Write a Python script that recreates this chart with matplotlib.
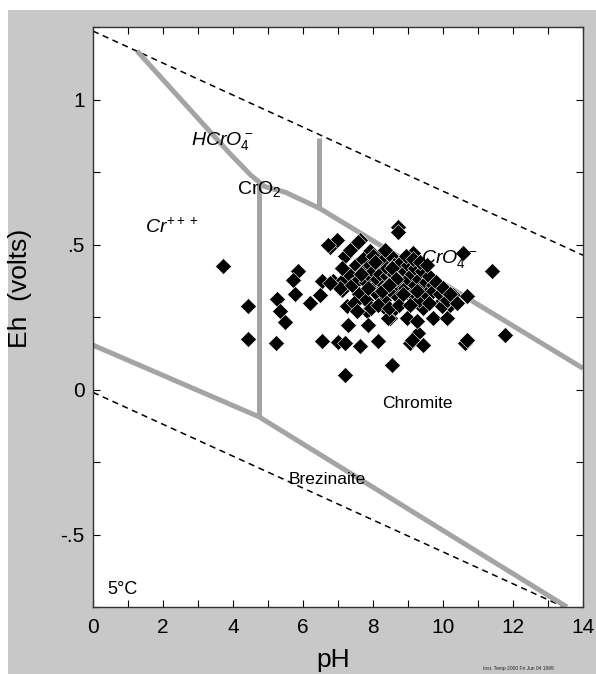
import numpy as np
import matplotlib
matplotlib.use('Agg')
import matplotlib.pyplot as plt
from matplotlib.patches import Rectangle

plt.rcParams['font.family'] = ['Liberation Sans', 'DejaVu Sans']
plt.rcParams['mathtext.fontset'] = 'custom'
plt.rcParams['mathtext.rm'] = 'Liberation Sans'
plt.rcParams['mathtext.it'] = 'Liberation Sans:italic'

# water stability limits (5 C)
water_ph = [0, 14]
water_top = [1.236, 0.463]
water_bot = [-0.01, -0.78]

# stability field boundaries
hcro4_ph = [1.26, 3.9, 4.5, 4.9, 5.5, 6.47, 14.0]
hcro4_eh = [1.167, 0.815, 0.74, 0.70, 0.68, 0.625, 0.073]
cro2_ph = [4.74, 4.74]
cro2_eh = [0.71, -0.094]
cro4_ph = [6.47, 6.47]
cro4_eh = [0.625, 0.868]
low_ph = [0.0, 4.74, 13.54]
low_eh = [0.153, -0.094, -0.75]

# measured samples
sample_ph = [3.71, 4.43, 4.43, 5.23, 5.26, 5.34, 5.49, 5.86, 5.71, 5.77, 6.20, 6.54,
             6.49, 6.54, 6.86, 6.77, 6.97, 7.11, 7.14, 7.26, 7.29, 7.00, 7.20, 7.63,
             7.83, 7.86, 8.14, 7.63, 7.91, 8.26, 8.54, 8.71, 8.71, 8.49, 8.97, 9.14,
             9.29, 9.06, 9.43, 9.71, 10.11, 10.29, 10.69, 10.63, 10.69, 10.57, 11.40,
             10.20, 9.91, 9.43, 9.14, 7.20, 9.97, 9.26, 9.11, 11.77, 8.34, 8.63, 8.43,
             6.71, 7.57, 7.06, 6.77,
             7.3, 7.4, 7.5, 7.6, 7.6, 7.7, 7.7, 7.8, 7.8, 7.9, 7.9, 8.0, 8.0, 8.0,
             8.1, 8.1, 8.2, 8.2, 8.3, 8.3, 8.3, 8.4, 8.4, 8.5, 8.5, 8.5, 8.6, 8.6,
             8.7, 8.7, 8.8, 8.8, 8.9, 8.9, 9.0, 9.0, 9.1, 9.1, 9.2, 9.2, 9.3, 9.3,
             9.4, 9.4, 9.5, 9.5, 9.6, 9.6, 9.7, 9.7, 9.8, 9.9, 10.0, 10.1, 10.2, 10.4,
             7.2, 7.35, 7.1, 7.45, 7.55, 7.95, 8.15, 8.45, 8.75, 9.05, 8.05, 8.35,
             8.55, 8.65, 8.95, 9.15, 9.35, 9.55, 8.25, 8.85, 7.85, 7.65, 8.45, 9.25]
sample_eh = [0.427, 0.288, 0.174, 0.160, 0.313, 0.271, 0.233, 0.410, 0.378, 0.330, 0.299, 0.375,
             0.326, 0.167, 0.375, 0.490, 0.517, 0.344, 0.378, 0.288, 0.222, 0.163, 0.160, 0.149,
             0.271, 0.222, 0.167, 0.514, 0.479, 0.472, 0.083, 0.559, 0.542, 0.247, 0.247, 0.316,
             0.194, 0.160, 0.153, 0.247, 0.247, 0.326, 0.323, 0.160, 0.170, 0.472, 0.410,
             0.292, 0.299, 0.281, 0.472, 0.049, 0.288, 0.236, 0.170, 0.188, 0.281, 0.281, 0.247,
             0.497, 0.507, 0.351, 0.368,
             0.40, 0.36, 0.43, 0.38, 0.33, 0.45, 0.41, 0.37, 0.31, 0.43, 0.39, 0.35, 0.41, 0.46,
             0.38, 0.33, 0.43, 0.40, 0.36, 0.45, 0.31, 0.39, 0.42, 0.37, 0.34, 0.46, 0.40, 0.43,
             0.36, 0.32, 0.39, 0.44, 0.41, 0.35, 0.38, 0.43, 0.33, 0.40, 0.36, 0.42, 0.38, 0.31,
             0.35, 0.41, 0.37, 0.33, 0.39, 0.30, 0.36, 0.34, 0.37, 0.33, 0.35, 0.31, 0.33, 0.30,
             0.46, 0.48, 0.42, 0.30, 0.27, 0.28, 0.29, 0.28, 0.29, 0.29, 0.44, 0.48,
             0.42, 0.38, 0.46, 0.45, 0.44, 0.43, 0.34, 0.33, 0.35, 0.40, 0.36, 0.34]

fig = plt.figure(figsize=(5.96, 6.74), dpi=100, facecolor='white')
fig.patches.append(Rectangle((8/596, 0), 1 - 8/596, 1 - 10/674, transform=fig.transFigure,
                             facecolor='#c8c8c8', edgecolor='none', zorder=-1))
ax = fig.add_axes([93/596, 67/674, 490/596, 580/674])
ax.set_facecolor('white')

gray = '#a4a4a4'
ax.plot(water_ph, water_top, color='black', lw=1.1, ls=(0, (4, 3)))
ax.plot(water_ph, water_bot, color='black', lw=1.1, ls=(0, (4, 3)))
for px, py in [(hcro4_ph, hcro4_eh), (cro2_ph, cro2_eh), (cro4_ph, cro4_eh), (low_ph, low_eh)]:
    ax.plot(px, py, color=gray, lw=3.6, solid_capstyle='butt', solid_joinstyle='round')

ax.plot(sample_ph, sample_eh, 'D', color='black', ms=8, mec='white', mew=0.4, ls='none')

ax.text(3.69, 0.858, r'$HCrO_4^-$', fontsize=14, ha='center', va='center')
ax.text(4.74, 0.69, r'CrO$_2$', fontsize=14, ha='center', va='center')
ax.text(2.26, 0.56, r'$Cr^{+++}$', fontsize=14, ha='center', va='center')
ax.text(10.17, 0.45, r'$CrO_4^{--}$', fontsize=14, ha='center', va='center')
ax.text(9.26, -0.05, 'Chromite', fontsize=12.5, ha='center', va='center')
ax.text(6.69, -0.31, 'Brezinaite', fontsize=12.5, ha='center', va='center')
ax.text(0.4, -0.69, '5°C', fontsize=13, ha='left', va='center')

ax.set_xlim(0, 14)
ax.set_ylim(-0.75, 1.25)
ax.set_xticks(np.arange(0, 15, 2))
ax.set_xticks(np.arange(0, 15, 1), minor=True)
ax.set_yticks([-0.5, 0, 0.5, 1])
ax.set_yticklabels(['-.5', '0', '.5', '1'])
ax.set_yticks(np.arange(-0.75, 1.26, 0.25), minor=True)
ax.tick_params(which='both', direction='in', top=True, right=True, labelsize=15, width=0.8)
ax.tick_params(which='both', length=5)
ax.tick_params(axis='x', pad=8)
ax.tick_params(axis='y', pad=6)
for s in ax.spines.values():
    s.set_linewidth(1.0)
    s.set_color('#333333')

ax.set_xlabel('pH', fontsize=19)
ax.set_ylabel('Eh  (volts)', fontsize=19)
ax.xaxis.set_label_coords(0.49, -0.07)
ax.yaxis.set_label_coords(-0.125, 0.55)

fig.text(0.81, 0.006, 'Inst. Temp 2000 Fri Jun 04 1999', fontsize=3.5, color='#222222')

fig.savefig('out.png', dpi=100, facecolor=fig.get_facecolor())
